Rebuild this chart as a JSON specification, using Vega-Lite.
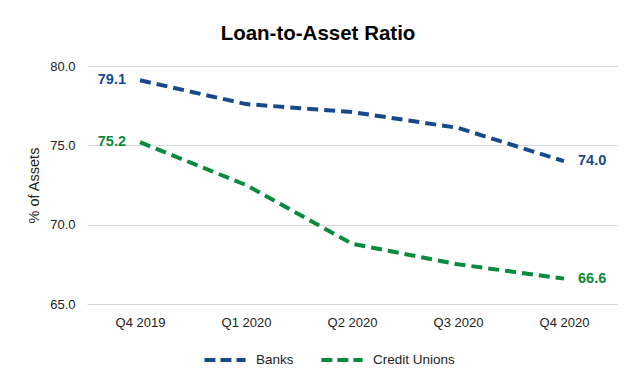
{
  "$schema": "https://vega.github.io/schema/vega-lite/v6.json",
  "width": 530,
  "height": 238,
  "autosize": {"type": "none"},
  "padding": {"left": 87, "top": 66, "right": 18, "bottom": 80},
  "background": "white",
  "config": {
    "font": "Liberation Sans",
    "view": {"stroke": null}
  },
  "title": {
    "text": "Loan-to-Asset Ratio",
    "fontSize": 20.5,
    "font": "Liberation Sans",
    "fontWeight": "bold",
    "color": "black",
    "anchor": "middle",
    "frame": "group",
    "dx": -34,
    "offset": 16
  },
  "data": {
    "values": [
      {"quarter": "Q4 2019", "series": "Banks", "value": 79.1},
      {"quarter": "Q1 2020", "series": "Banks", "value": 77.6},
      {"quarter": "Q2 2020", "series": "Banks", "value": 77.1},
      {"quarter": "Q3 2020", "series": "Banks", "value": 76.1},
      {"quarter": "Q4 2020", "series": "Banks", "value": 74.0},
      {"quarter": "Q4 2019", "series": "Credit Unions", "value": 75.2},
      {"quarter": "Q1 2020", "series": "Credit Unions", "value": 72.5},
      {"quarter": "Q2 2020", "series": "Credit Unions", "value": 68.8},
      {"quarter": "Q3 2020", "series": "Credit Unions", "value": 67.5},
      {"quarter": "Q4 2020", "series": "Credit Unions", "value": 66.6}
    ]
  },
  "encoding": {
    "x": {
      "field": "quarter",
      "type": "ordinal",
      "sort": ["Q4 2019", "Q1 2020", "Q2 2020", "Q3 2020", "Q4 2020"],
      "scale": {"paddingInner": 0, "paddingOuter": 0.5},
      "axis": {
        "title": null,
        "labelAngle": 0,
        "domain": false,
        "ticks": false,
        "labelPadding": 12,
        "labelFontSize": 13,
        "labelColor": "#222222",
        "labelFont": "Liberation Sans"
      }
    },
    "y": {
      "field": "value",
      "type": "quantitative",
      "scale": {"domain": [65, 80]},
      "axis": {
        "title": "% of Assets",
        "titleFontSize": 14.5,
        "titleFontWeight": "normal",
        "titleColor": "#222222",
        "titleFont": "Liberation Sans",
        "titlePadding": 8,
        "values": [65, 70, 75, 80],
        "format": ".1f",
        "domain": false,
        "ticks": false,
        "labelPadding": 12,
        "labelFontSize": 13,
        "labelColor": "#222222",
        "labelFont": "Liberation Sans",
        "gridColor": "#D9D9D9",
        "gridWidth": 1
      }
    }
  },
  "layer": [
    {
      "mark": {"type": "line", "strokeWidth": 4, "strokeDash": [11, 6]},
      "encoding": {
        "color": {
          "field": "series",
          "type": "nominal",
          "scale": {"domain": ["Banks", "Credit Unions"], "range": ["#17498C", "#088A3F"]},
          "legend": {
            "title": null,
            "orient": "none",
            "direction": "horizontal",
            "legendX": 115,
            "legendY": 271,
            "symbolType": "stroke",
            "symbolStrokeWidth": 4,
            "symbolDash": [11, 5],
            "symbolSize": 1700,
            "labelFontSize": 13.5,
            "labelColor": "#222222",
            "labelFont": "Liberation Sans",
            "labelOffset": 8,
            "columnPadding": 19
          }
        }
      }
    },
    {
      "transform": [{"filter": "datum.quarter == 'Q4 2019'"}],
      "mark": {"type": "text", "align": "right", "dx": -14, "fontWeight": "bold", "fontSize": 14.5, "font": "Liberation Sans"},
      "encoding": {
        "text": {"field": "value", "type": "quantitative", "format": ".1f"},
        "color": {"field": "series", "type": "nominal", "legend": null}
      }
    },
    {
      "transform": [{"filter": "datum.quarter == 'Q4 2020'"}],
      "mark": {"type": "text", "align": "left", "dx": 14, "fontWeight": "bold", "fontSize": 14.5, "font": "Liberation Sans"},
      "encoding": {
        "text": {"field": "value", "type": "quantitative", "format": ".1f"},
        "color": {"field": "series", "type": "nominal", "legend": null}
      }
    }
  ]
}
